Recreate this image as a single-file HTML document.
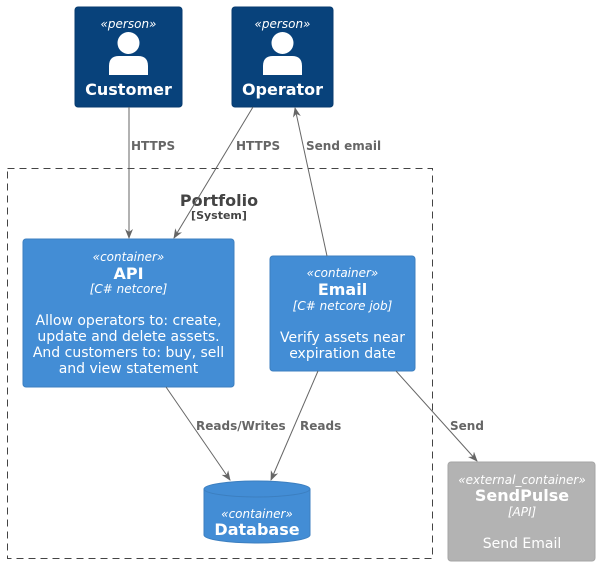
<!DOCTYPE html>
<html><head><meta charset="utf-8"><style>
html,body{margin:0;padding:0;background:#fff;width:600px;height:566px;overflow:hidden}
text{font-family:"DejaVu Sans","Liberation Sans",sans-serif}
</style></head><body>
<svg width="600" height="566" viewBox="0 0 600 566" xmlns="http://www.w3.org/2000/svg">
<defs><marker id="a" markerWidth="10" markerHeight="10" refX="9" refY="4" orient="auto" markerUnits="userSpaceOnUse"><path d="M0,0 L10,4 L0,8 L3,4 Z" fill="#666"/></marker></defs>
<rect x="7.5" y="168.5" width="425" height="390" fill="none" stroke="#444" stroke-dasharray="7,5"/>
<text x="219" y="206" font-size="16" font-weight="bold" fill="#444" text-anchor="middle">Portfolio</text>
<text x="219" y="219" font-size="11" font-weight="bold" fill="#444" text-anchor="middle">[System]</text>
<rect x="75" y="7" width="107" height="100" rx="3" fill="#08427B" stroke="#073B6F"/>
<text x="128.5" y="28" font-size="12" font-style="italic" fill="#fff" text-anchor="middle">«person»</text>
<circle cx="128.5" cy="43" r="11" fill="#fff"/>
<path d="M109,75 L109,66 Q109,56 119,56 L138,56 Q148,56 148,66 L148,75 Z" fill="#fff"/>
<text x="128.5" y="95" font-size="16" font-weight="bold" fill="#fff" text-anchor="middle">Customer</text>
<rect x="232" y="7" width="101" height="100" rx="3" fill="#08427B" stroke="#073B6F"/>
<text x="282.5" y="28" font-size="12" font-style="italic" fill="#fff" text-anchor="middle">«person»</text>
<circle cx="282.5" cy="43" r="11" fill="#fff"/>
<path d="M263,75 L263,66 Q263,56 273,56 L292,56 Q302,56 302,66 L302,75 Z" fill="#fff"/>
<text x="282.5" y="95" font-size="16" font-weight="bold" fill="#fff" text-anchor="middle">Operator</text>
<rect x="23" y="239" width="211" height="148" rx="3" fill="#438DD5" stroke="#3C7FC0"/>
<g fill="#fff" text-anchor="middle">
<text x="128.5" y="261" font-size="12" font-style="italic">«container»</text>
<text x="128.5" y="279" font-size="16" font-weight="bold">API</text>
<text x="128.5" y="293" font-size="12" font-style="italic">[C# netcore]</text>
<text x="128.5" y="325" font-size="14">Allow operators to: create,</text>
<text x="128.5" y="341" font-size="14">update and delete assets.</text>
<text x="128.5" y="357" font-size="14">And customers to: buy, sell</text>
<text x="128.5" y="373" font-size="14">and view statement</text>
</g>
<rect x="270" y="256" width="145" height="115" rx="3" fill="#438DD5" stroke="#3C7FC0"/>
<g fill="#fff" text-anchor="middle">
<text x="342.5" y="277" font-size="12" font-style="italic">«container»</text>
<text x="342.5" y="295" font-size="16" font-weight="bold">Email</text>
<text x="342.5" y="310" font-size="12" font-style="italic">[C# netcore job]</text>
<text x="342.5" y="342" font-size="14">Verify assets near</text>
<text x="342.5" y="358" font-size="14">expiration date</text>
</g>
<path d="M204,489 L204,535 A53,8 0 0 0 310,535 L310,489 A53,8 0 0 0 204,489 Z" fill="#438DD5" stroke="#3C7FC0"/>
<path d="M204,489 A53,8 0 0 0 310,489" fill="none" stroke="#3C7FC0"/>
<text x="257" y="518" font-size="12" font-style="italic" fill="#fff" text-anchor="middle">«container»</text>
<text x="257" y="535" font-size="16" font-weight="bold" fill="#fff" text-anchor="middle">Database</text>
<rect x="448" y="462" width="147" height="99" rx="3" fill="#B3B3B3" stroke="#A6A6A6"/>
<g fill="#fff" text-anchor="middle">
<text x="522" y="484" font-size="12" font-style="italic">«external_container»</text>
<text x="522" y="501" font-size="16" font-weight="bold">SendPulse</text>
<text x="522" y="516" font-size="12" font-style="italic">[API]</text>
<text x="522" y="548" font-size="14">Send Email</text>
</g>
<g stroke="#666" stroke-width="1" fill="none" marker-end="url(#a)">
<line x1="129" y1="107" x2="129" y2="238"/>
<line x1="253" y1="107" x2="174" y2="238"/>
<line x1="327" y1="256" x2="295" y2="108"/>
<line x1="166" y1="387" x2="230" y2="480"/>
<line x1="318" y1="371" x2="271" y2="480"/>
<line x1="396" y1="371" x2="477" y2="461"/>
</g>
<g font-size="12" font-weight="bold" fill="#666">
<text x="131" y="150">HTTPS</text>
<text x="236" y="150">HTTPS</text>
<text x="306" y="150">Send email</text>
<text x="196" y="430">Reads/Writes</text>
<text x="300" y="430">Reads</text>
<text x="450" y="430">Send</text>
</g>
</svg>
</body></html>
